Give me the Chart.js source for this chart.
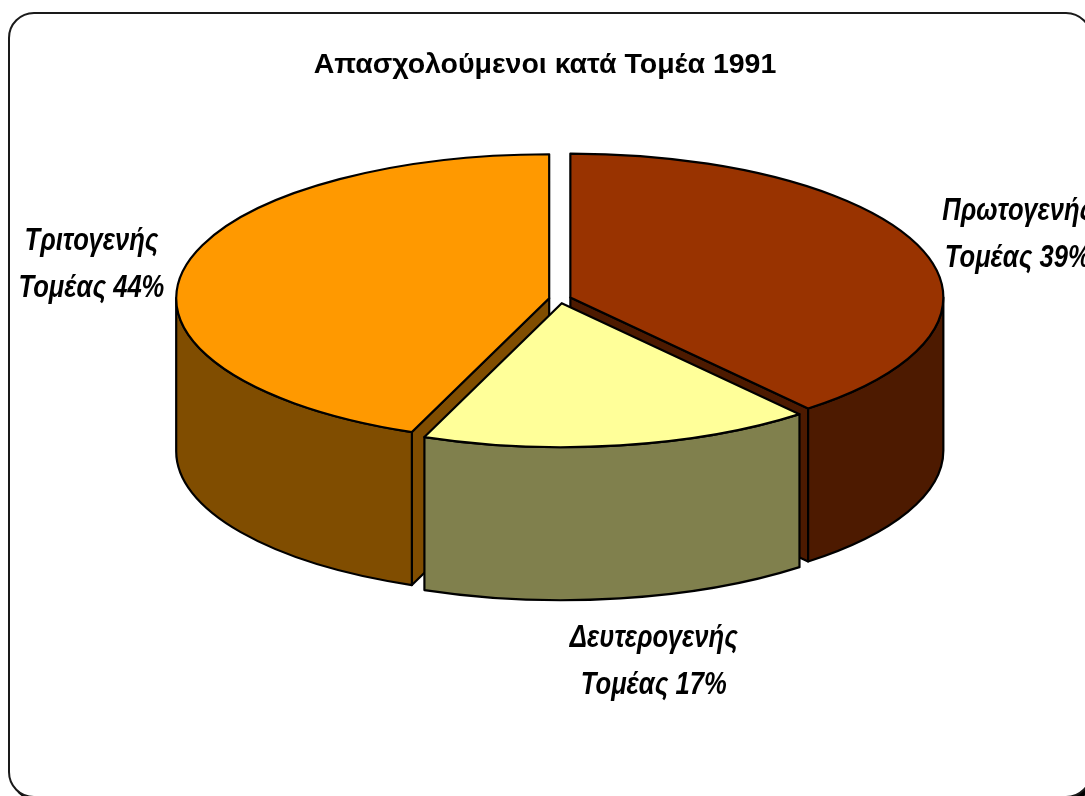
<!DOCTYPE html>
<html><head><meta charset="utf-8">
<script src="https://cdn.jsdelivr.net/npm/chart.js@4.4.1/dist/chart.umd.min.js"></script>
<style>
html,body{margin:0;padding:0;background:#fff;overflow:hidden}
#wrap{position:relative;width:1085px;height:796px;overflow:hidden;background:#fff}
#frame{position:absolute;left:8px;top:12px;width:1080px;height:782px;border:2px solid #1a1a1a;border-radius:26px;box-shadow:3px 3px 0 #000;background:#fff}
#c{position:absolute;left:0;top:0}
</style></head><body>
<div id="wrap"><div id="frame"></div><canvas id="c" width="1085" height="796"></canvas></div>
<script>
// ---- data ----
const TITLE = 'Απασχολούμενοι κατά Τομέα 1991';
const SECTORS = ['Πρωτογενής', 'Δευτερογενής', 'Τριτογενής'];
const SECTOR_WORD = 'Τομέας';
const SHARES = [39, 17, 44];
const TOP_COLORS = ['#993300', '#FFFF99', '#FF9900'];

function darken(hex, f) {
  const n = parseInt(hex.slice(1), 16);
  const r = Math.round(((n >> 16) & 255) * f), g = Math.round(((n >> 8) & 255) * f), b = Math.round((n & 255) * f);
  return 'rgb(' + r + ',' + g + ',' + b + ')';
}

function drawText(ctx, str, x, y, font, sx) {
  ctx.save();
  ctx.translate(x, y);
  ctx.scale(sx, 1);
  ctx.font = font;
  ctx.textAlign = 'center';
  ctx.textBaseline = 'alphabetic';
  ctx.fillStyle = '#000';
  ctx.fillText(str, 0, 0);
  ctx.restore();
}

function sliceGeom(chart, opts) {
  const meta = chart.getDatasetMeta(0);
  const k = opts.tilt;
  return meta.data.map((arc, i) => {
    const p = arc.getProps(['x', 'y', 'startAngle', 'endAngle', 'outerRadius'], true);
    const mid = (p.startAngle + p.endAngle) / 2;
    const off = arc.options.offset || 0;
    return {
      i, p, mid, R: p.outerRadius,
      ox: p.x + Math.cos(mid) * off,
      oy: p.y + Math.sin(mid) * off * k,
      color: arc.options.backgroundColor
    };
  });
}

const pie3d = {
  id: 'pie3d',
  beforeDatasetDraw(chart, args, opts) {
    const ctx = chart.ctx;
    const k = opts.tilt, D = opts.depth;
    const items = sliceGeom(chart, opts).sort((a, b) => Math.sin(a.mid) - Math.sin(b.mid));
    ctx.save();
    ctx.lineWidth = opts.lineWidth;
    ctx.strokeStyle = '#000';
    ctx.lineJoin = 'round';
    for (const s of items) {
      const a1 = s.p.startAngle, a2 = s.p.endAngle, R = s.R, ry = R * k;
      const side = darken(s.color, 0.5);
      const face = (a) => {
        const rx = s.ox + R * Math.cos(a), rY = s.oy + ry * Math.sin(a);
        ctx.beginPath();
        ctx.moveTo(s.ox, s.oy);
        ctx.lineTo(rx, rY);
        ctx.lineTo(rx, rY + D);
        ctx.lineTo(s.ox, s.oy + D);
        ctx.closePath();
        ctx.fillStyle = side; ctx.fill(); ctx.stroke();
      };
      if (Math.cos(a1) < -1e-6) face(a1);
      if (Math.cos(a2) > 1e-6) face(a2);
      // outer wall: visible where sin(angle) >= 0
      const wins = [[-2 * Math.PI, -Math.PI], [0, Math.PI], [2 * Math.PI, 3 * Math.PI]];
      for (const w of wins) {
        const s1 = Math.max(a1, w[0]), s2 = Math.min(a2, w[1]);
        if (s2 - s1 > 1e-6) {
          ctx.beginPath();
          ctx.ellipse(s.ox, s.oy, R, ry, 0, s1, s2, false);
          ctx.lineTo(s.ox + R * Math.cos(s2), s.oy + D + ry * Math.sin(s2));
          ctx.ellipse(s.ox, s.oy + D, R, ry, 0, s2, s1, true);
          ctx.closePath();
          ctx.fillStyle = side; ctx.fill(); ctx.stroke();
        }
      }
      // top
      ctx.beginPath();
      ctx.moveTo(s.ox, s.oy);
      ctx.ellipse(s.ox, s.oy, R, ry, 0, a1, a2, false);
      ctx.closePath();
      ctx.fillStyle = s.color; ctx.fill(); ctx.stroke();
    }
    ctx.restore();
    return false;
  },
  afterDraw(chart, args, opts) {
    const ctx = chart.ctx;
    const k = opts.tilt, D = opts.depth;
    // title
    drawText(ctx, TITLE, opts.titleX, opts.titleBaseline, 'bold 28.5px "Liberation Sans", Arial, sans-serif', 1.0);
    // labels
    const items = sliceGeom(chart, opts);
    const values = chart.data.datasets[0].data;
    for (const s of items) {
      const f = opts.labelRadius[s.i];
      const nudge = opts.labelNudge[s.i];
      const cx = s.p.x + Math.cos(s.mid) * s.R * f + nudge[0];
      let cy = s.p.y + Math.sin(s.mid) * s.R * f * k + nudge[1];
      if (Math.sin(s.mid) > 0.5) cy += D;
      const font = 'italic bold 32px "Liberation Sans", Arial, sans-serif';
      drawText(ctx, SECTORS[s.i], cx, cy - 12, font, opts.textScale);
      drawText(ctx, SECTOR_WORD + ' ' + values[s.i] + '%', cx, cy + 35, font, opts.textScale);
    }
  }
};

new Chart(document.getElementById('c').getContext('2d'), {
  type: 'pie',
  data: {
    labels: SECTORS.map(s => s + ' ' + SECTOR_WORD),
    datasets: [{
      data: SHARES,
      backgroundColor: TOP_COLORS,
      borderColor: '#000',
      borderWidth: 2,
      offset: 11,
      radius: 373,
      clip: false
    }]
  },
  options: {
    responsive: false,
    animation: false,
    events: [],
    layout: { padding: { left: 35, right: 0, top: 0, bottom: 198 } },
    plugins: {
      legend: { display: false },
      title: { display: false },
      tooltip: { enabled: false },
      pie3d: {
        tilt: 0.386, depth: 153, lineWidth: 2.2, textScale: 0.8,
        titleX: 545, titleBaseline: 73,
        labelRadius: [1.31, 1.453, 1.287],
        labelNudge: [[-2, -3], [9, 0], [3, -2]]
      }
    }
  },
  plugins: [pie3d]
});
</script>
</body></html>
